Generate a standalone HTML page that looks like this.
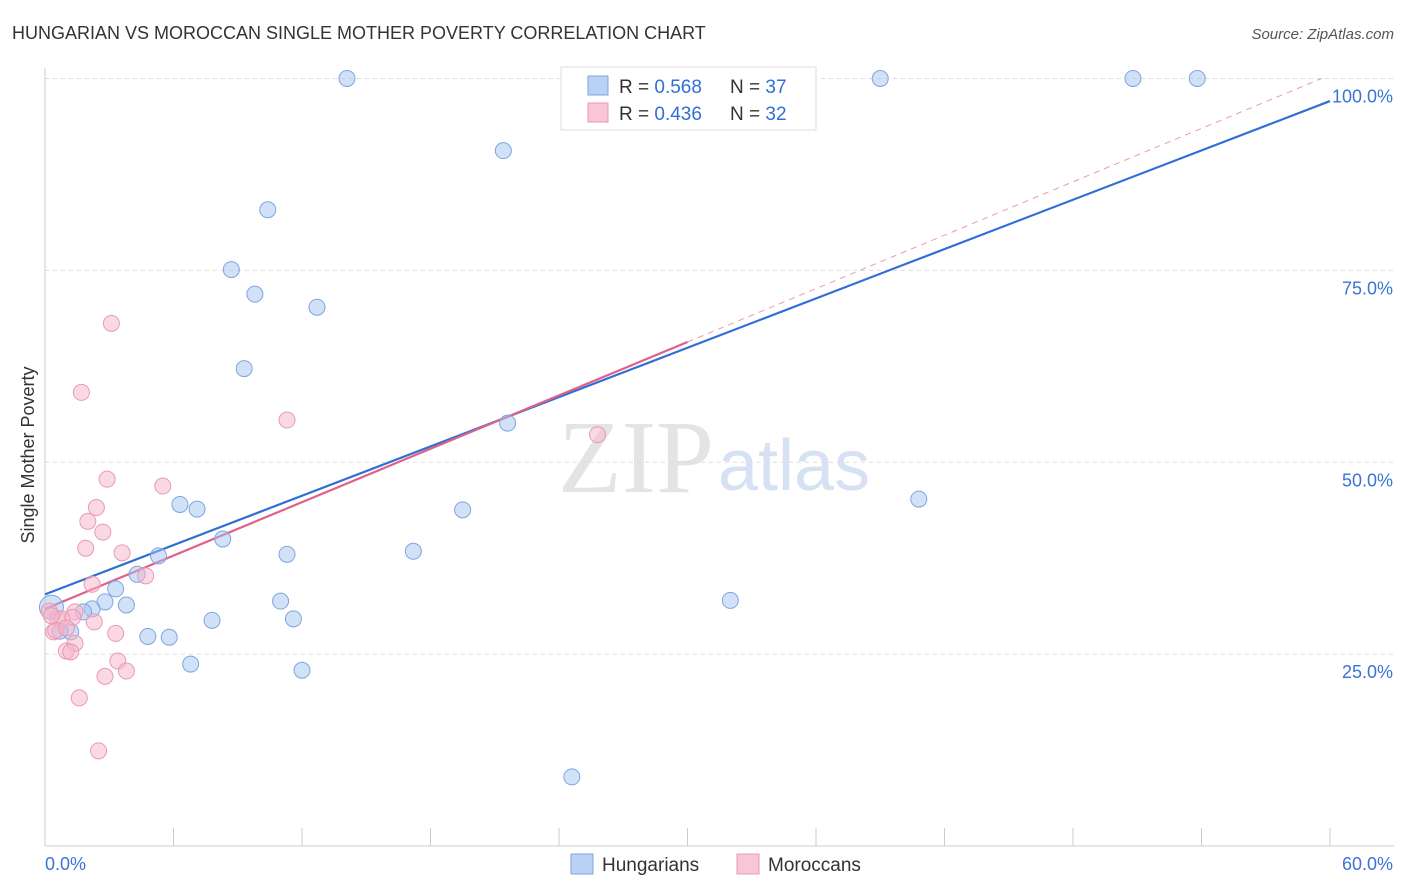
<!DOCTYPE html>
<html><head><meta charset="utf-8">
<style>
body{margin:0;background:#fff;font-family:"Liberation Sans",sans-serif;}
svg{display:block}
</style></head>
<body>
<svg id="chart" width="1406" height="892">
<text x="12" y="39" font-size="18" fill="#333">HUNGARIAN VS MOROCCAN SINGLE MOTHER POVERTY CORRELATION CHART</text>
<text x="1394" y="39" font-size="15" fill="#555" font-style="italic" text-anchor="end">Source: ZipAtlas.com</text>
<text transform="translate(34,455) rotate(-90)" font-size="18" fill="#333" text-anchor="middle">Single Mother Poverty</text>
<text x="714" y="492" font-size="104" fill="#e4e4e4" text-anchor="end" font-family="Liberation Serif,serif">ZIP</text>
<text x="718" y="490" font-size="72" fill="#d6e2f3">atlas</text>
<g id="grid"></g>
<g id="axes"></g>
<g id="lines"></g>
<g id="points"></g>
<g>
<rect x="561" y="67" width="255" height="63" fill="#fff" stroke="#ddd"/>
<rect x="588" y="76" width="20" height="19" fill="#b8d2f5" stroke="#7ea6dd"/>
<rect x="588" y="103" width="20" height="19" fill="#f8c6d6" stroke="#e89ab3"/>
<text x="619" y="93" font-size="19" fill="#333">R = <tspan fill="#2f6fd6">0.568</tspan></text>
<text x="730" y="93" font-size="19" fill="#333">N = <tspan fill="#2f6fd6">37</tspan></text>
<text x="619" y="120" font-size="19" fill="#333">R = <tspan fill="#2f6fd6">0.436</tspan></text>
<text x="730" y="120" font-size="19" fill="#333">N = <tspan fill="#2f6fd6">32</tspan></text>
</g>
<g>
<rect x="571" y="854" width="22" height="20" fill="#b8d2f5" stroke="#7ea6dd"/>
<text x="602" y="871" font-size="19" fill="#333">Hungarians</text>
<rect x="737" y="854" width="22" height="20" fill="#f8c6d6" stroke="#e89ab3"/>
<text x="768" y="871" font-size="19" fill="#333">Moroccans</text>
</g>
</svg>
<script>
const yTicks=[25,50,75,100];
const yTickLabels=["25.0%","50.0%","75.0%","100.0%"];
const hunX=[14.1,39.0,50.8,53.8,21.4,10.4,8.7,9.8,12.7,9.3,21.6,6.3,7.1,19.5,40.8,8.3,5.3,11.3,17.2,4.3,3.3,2.8,3.8,11.0,32.0,2.2,1.8,0.3,11.6,7.8,4.8,5.8,1.2,0.7,6.8,12.0,24.6];
const hunY=[100,100,100,100,90.6,82.9,75.1,71.9,70.2,62.2,55.1,44.5,43.9,43.8,45.2,40.0,37.8,38.0,38.4,35.4,33.5,31.8,31.4,31.9,32.0,30.9,30.5,31.1,29.6,29.4,27.3,27.2,27.9,28.0,23.7,22.9,9.0];
const morX=[3.1,1.7,11.3,25.8,2.9,5.5,2.4,2.0,2.7,1.9,3.6,4.7,2.2,0.2,1.4,0.6,0.8,2.3,1.3,0.4,3.3,1.4,1.0,1.2,3.4,3.8,2.8,1.6,2.5,0.5,1.0,0.3];
const morY=[68.1,59.1,55.5,53.6,47.8,46.9,44.1,42.3,40.9,38.8,38.2,35.2,34.1,30.6,30.5,29.6,29.6,29.2,29.8,27.9,27.7,26.4,25.4,25.3,24.1,22.8,22.1,19.3,12.4,28.1,28.4,30.0];
const NS="http://www.w3.org/2000/svg";
const X=v=>45+v*(1330-45)/60;
const Y=v=>846-v*7.675;
function mk(t,a,p){const e=document.createElementNS(NS,t);for(const k in a)e.setAttribute(k,a[k]);p.appendChild(e);return e;}
const grid=document.getElementById('grid'),axes=document.getElementById('axes');
yTicks.forEach((t,i)=>{
 const l=mk('line',{x1:45,x2:1394,y1:Y(t),y2:Y(t),stroke:'#ddd','stroke-dasharray':'4,4'},grid);
 
 
 const tx=mk('text',{x:1393,y:Y(t)+24,'font-size':18,fill:'#3a74d6','text-anchor':'end'},axes);
 tx.textContent=yTickLabels[i];
 
 
});
mk('line',{x1:45,x2:45,y1:68,y2:846,stroke:'#ccc'},axes);
mk('line',{x1:45,x2:1394,y1:846,y2:846,stroke:'#ccc'},axes);
for(let i=0;i<=10;i++){const t=mk('line',{x1:X(i*6),x2:X(i*6),y1:828,y2:846,stroke:'#ccc'},axes);
 
 }
const x0=mk('text',{x:45,y:870,'font-size':18,fill:'#3a74d6'},axes);x0.textContent='0.0%';


const x1=mk('text',{x:1393,y:870,'font-size':18,fill:'#3a74d6','text-anchor':'end'},axes);x1.textContent='60.0%';


function reg(xs,ys){const n=xs.length;let mx=0,my=0;for(let i=0;i<n;i++){mx+=xs[i];my+=ys[i];}mx/=n;my/=n;let sxy=0,sxx=0;for(let i=0;i<n;i++){sxy+=(xs[i]-mx)*(ys[i]-my);sxx+=(xs[i]-mx)**2;}const b=sxy/sxx;return [my-b*mx,b];}
const lines=document.getElementById('lines');
const [ha,hb]=reg(hunX,hunY);
const hl=mk('line',{x1:X(0),y1:Y(ha),x2:X(60),y2:Y(ha+hb*60),stroke:'#2f6fd6','stroke-width':2.2},lines);


const [ma,mb]=reg(morX,morY);
const ml=mk('line',{x1:X(0),y1:Y(ma),x2:X(30),y2:Y(ma+mb*30),stroke:'#e0608a','stroke-width':2.2},lines);


const xe=Math.min(60,(100-ma)/mb);
const md=mk('line',{x1:X(30),y1:Y(ma+mb*30),x2:X(xe),y2:Y(ma+mb*xe),stroke:'#e89ab3','stroke-width':1,'stroke-dasharray':'6,5'},lines);


const pts=document.getElementById('points');
hunX.forEach((v,i)=>{const c=mk('circle',{cx:X(v),cy:Y(hunY[i]),r:i==27?12:8,fill:'rgba(163,196,240,0.5)',stroke:'#7ea6dd','stroke-width':1},pts);
 
 });
morX.forEach((v,i)=>{const c=mk('circle',{cx:X(v),cy:Y(morY[i]),r:8,fill:'rgba(246,180,202,0.5)',stroke:'#e89ab3','stroke-width':1},pts);
 
 });
</script>
</body></html>
